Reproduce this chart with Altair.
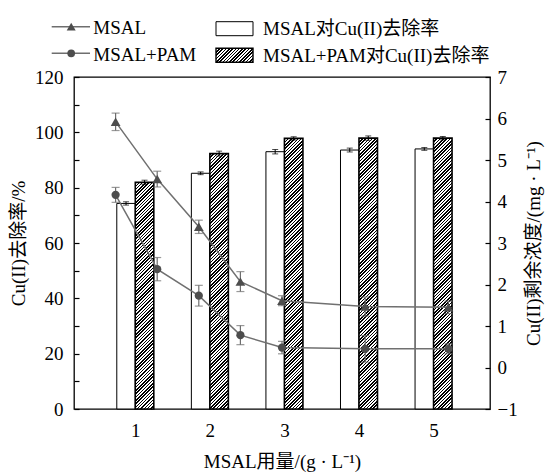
import altair as alt
import pandas as pd

# ---------------- data ----------------
doses = [1, 2, 3, 4, 5]
msal_rate = [74.3, 85.2, 93.0, 93.6, 94.0]
msal_rate_err = [0.6, 0.5, 0.8, 0.7, 0.5]
pam_rate = [81.9, 92.3, 97.8, 97.9, 97.9]
pam_rate_err = [0.8, 0.9, 0.6, 0.8, 0.6]

line_doses = [1, 1.5, 2, 2.5, 3, 4, 5]
msal_conc = [5.92, 4.54, 3.39, 2.07, 1.61, 1.47, 1.45]
msal_conc_err = [0.21, 0.19, 0.16, 0.24, 0.12, 0.23, 0.15]
pam_conc = [4.16, 2.37, 1.73, 0.78, 0.48, 0.45, 0.45]
pam_conc_err = [0.18, 0.28, 0.25, 0.23, 0.15, 0.32, 0.12]

series_line = ["MSAL", "MSAL+PAM"]
series_bar = ["MSAL对Cu(II)去除率", "MSAL+PAM对Cu(II)去除率"]

FONT = "Liberation Serif, 'Noto Sans CJK SC'"
W, H = 416, 332
BAR_W = 18.5
FS = 19

bar_df = pd.DataFrame({
    "dose": doses,
    "msal": msal_rate, "msal_lo": [v - e for v, e in zip(msal_rate, msal_rate_err)],
    "msal_hi": [v + e for v, e in zip(msal_rate, msal_rate_err)],
    "pam": pam_rate, "pam_lo": [v - e for v, e in zip(pam_rate, pam_rate_err)],
    "pam_hi": [v + e for v, e in zip(pam_rate, pam_rate_err)],
})

rows = []
for name, vals, errs in [(series_line[0], msal_conc, msal_conc_err), (series_line[1], pam_conc, pam_conc_err)]:
    for d, v, e in zip(line_doses, vals, errs):
        rows.append({"series": name, "dose": d, "conc": v, "lo": v - e, "hi": v + e})
line_df = pd.DataFrame(rows)


def hatch(w, h, period=3.3, ink=0.48):
    """45-degree hatch fill as a hard-stop linear gradient (bounding-box units)."""
    S = w + h
    L = (w * w + h * h) / S
    stops = []
    k = 0
    while k * period < S:
        a = k * period / S
        b = min((k + ink) * period / S, 1)
        c = min((k + 1) * period / S, 1)
        stops += [alt.GradientStop(offset=round(a, 5), color="black"),
                  alt.GradientStop(offset=round(b, 5), color="black"),
                  alt.GradientStop(offset=round(b, 5), color="white"),
                  alt.GradientStop(offset=round(c, 5), color="white")]
        k += 1
    return alt.Gradient(gradient="linear", stops=stops, x1=0, y1=0, x2=w / L, y2=h / L)


AX = dict(labelFont=FONT, titleFont=FONT, labelFontSize=FS, titleFontSize=FS,
          labelColor="black", titleColor="black", tickColor="black", titleFontWeight="normal",
          labelFontWeight="normal", tickWidth=1.2)

# ---------------- bar group (left axis) ----------------
xb = alt.X("dose:Q", scale=alt.Scale(domain=[0.245, 5.69], nice=False, zero=False),
           axis=alt.Axis(values=doses, format="d", title="MSAL用量/(g · L⁻¹)", ticks=False,
                         domain=False, grid=False, labelPadding=12, titlePadding=12, **AX))
yb_axis = alt.Axis(values=list(range(0, 121, 10)), format="d",
                   labelExpr="datum.value % 20 == 0 ? datum.label : ''",
                   tickSize=5, offset=-5, domain=False, grid=False, labelPadding=11,
                   title="Cu(II)去除率/%", titlePadding=6, **AX)
yscale_b = alt.Scale(domain=[0, 120], nice=False)

base_b = alt.Chart(bar_df)
white_bars = base_b.mark_bar(width=BAR_W, xOffset=-BAR_W / 2, fill="white", stroke="black",
                             strokeWidth=1).encode(
    x=xb, y=alt.Y("msal:Q", scale=yscale_b, axis=yb_axis))

hatched = []
for d, v in zip(doses, pam_rate):
    hpx = v * H / 120
    hatched.append(
        base_b.transform_filter(alt.datum.dose == d).mark_bar(
            width=BAR_W, xOffset=BAR_W / 2, fill=hatch(BAR_W, hpx), stroke="black",
            strokeWidth=1.6).encode(x=xb, y=alt.Y("pam:Q", scale=yscale_b, axis=yb_axis)))

err_layers = []
for key, off in [("msal", -BAR_W / 2), ("pam", BAR_W / 2)]:
    err_layers.append(base_b.mark_rule(color="black", strokeWidth=1, xOffset=off).encode(
        x=xb, y=alt.Y(f"{key}_lo:Q", scale=yscale_b, axis=yb_axis), y2=f"{key}_hi:Q"))
    for end in ["lo", "hi"]:
        err_layers.append(base_b.mark_tick(orient="horizontal", size=6, thickness=1, color="black",
                                           xOffset=off).encode(
            x=xb, y=alt.Y(f"{key}_{end}:Q", scale=yscale_b, axis=yb_axis)))

bars = alt.layer(white_bars, *hatched, *err_layers)

# ---------------- line group (right axis) ----------------
xl = alt.X("dose:Q", scale=alt.Scale(domain=[0.5, 5.5], nice=False, zero=False), axis=None)
yl_axis = alt.Axis(orient="right", values=[v / 2 for v in range(-2, 15)], format="d",
                   labelExpr="datum.value % 1 == 0 ? datum.label : ''",
                   tickSize=5, offset=-5, domain=False, grid=False, labelPadding=7,
                   title="Cu(II)剩余浓度/(mg · L⁻¹)", titleAngle=270, titlePadding=26, **AX)
yscale_l = alt.Scale(domain=[-1, 7], nice=False, zero=False)
yl = alt.Y("conc:Q", scale=yscale_l, axis=yl_axis)

base_l = alt.Chart(line_df)
lines = base_l.mark_line(color="#707070", strokeWidth=1.5).encode(
    x=xl, y=yl, detail="series:N")
l_err = base_l.mark_rule(color="#6e6e6e", strokeWidth=1.2).encode(
    x=xl, y=alt.Y("lo:Q", scale=yscale_l, axis=yl_axis), y2="hi:Q")
l_cap_lo = base_l.mark_tick(orient="horizontal", size=8, thickness=1.2, color="#6e6e6e").encode(
    x=xl, y=alt.Y("lo:Q", scale=yscale_l, axis=yl_axis))
l_cap_hi = base_l.mark_tick(orient="horizontal", size=8, thickness=1.2, color="#6e6e6e").encode(
    x=xl, y=alt.Y("hi:Q", scale=yscale_l, axis=yl_axis))
pts = base_l.mark_point(filled=True, opacity=1, color="#4d4d4d").encode(
    x=xl, y=yl,
    shape=alt.Shape("series:N", scale=alt.Scale(domain=series_line, range=["triangle-up", "circle"]),
                    legend=None),
    size=alt.Size("series:N", scale=alt.Scale(domain=series_line, range=[95, 68]), legend=None))

line_group = alt.layer(lines, l_err, l_cap_lo, l_cap_hi, pts)

# ---------------- manual legend ----------------
one = pd.DataFrame({"k": [0]})
leg = []
for i, (name, shp, sz) in enumerate(zip(series_line, ["triangle-up", "circle"], [80, 60])):
    yy = -50.3 + i * 26.6
    leg.append(alt.Chart(one).mark_rule(color="#6e6e6e", strokeWidth=1.5).encode(
        x=alt.value(-22.3), x2=alt.value(16), y=alt.value(yy)))
    leg.append(alt.Chart(one).mark_point(filled=True, opacity=1, color="#4d4d4d", shape=shp,
                                         size=sz).encode(x=alt.value(-2.8), y=alt.value(yy)))
    leg.append(alt.Chart(one).mark_text(align="left", baseline="middle", font=FONT, fontSize=FS,
                                        color="black").encode(
        x=alt.value(19.3), y=alt.value(yy + 1.5), text=alt.value(name)))

box_w, box_h = 37, 14
for i, name in enumerate(series_bar):
    y0 = -55.3 + i * 26.6
    fill = "white" if i == 0 else hatch(box_w, box_h)
    leg.append(alt.Chart(one).mark_rect(fill=fill, stroke="black",
                                        strokeWidth=1 if i == 0 else 1.4).encode(
        x=alt.value(142), x2=alt.value(142 + box_w), y=alt.value(y0), y2=alt.value(y0 + box_h)))
    leg.append(alt.Chart(one).mark_text(align="left", baseline="middle", font=FONT, fontSize=FS,
                                        color="black").encode(
        x=alt.value(189), y=alt.value(y0 + box_h / 2 + 0.5), text=alt.value(name)))

legend_group = alt.layer(*leg)

chart = alt.layer(bars, line_group, legend_group).resolve_scale(
    x="independent", y="independent", shape="independent", size="independent"
).properties(
    width=W, height=H, background="white",
    autosize=alt.AutoSizeParams(type="none"),
    padding={"left": 74, "top": 77, "right": 545 - 74 - W, "bottom": 474 - 77 - H},
).configure_view(
    stroke="black", strokeWidth=1.3
).configure_axis(**AX)

chart.save("out.html", embed_options={"renderer": "svg", "actions": False})
